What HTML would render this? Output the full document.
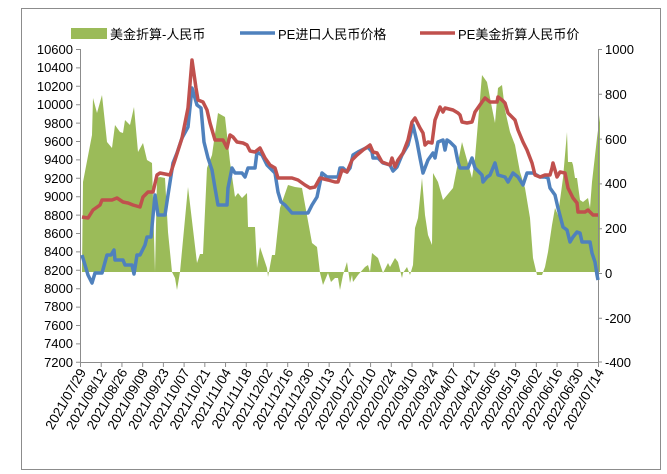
<!DOCTYPE html>
<html><head><meta charset="utf-8"><style>
body{margin:0;background:#fff;}
svg{display:block;font-family:"Liberation Sans","Noto Sans CJK SC",sans-serif;}
</style></head><body>
<svg width="667" height="474" viewBox="0 0 667 474" xmlns="http://www.w3.org/2000/svg">
<rect x="21.5" y="8.5" width="639" height="461" fill="#fff" stroke="#8c8c8c"/>
<rect x="71" y="28" width="36" height="11" fill="#9bbb59"/>
<text x="110" y="39" font-size="13">美金折算-人民币</text>
<line x1="240" y1="33" x2="275" y2="33" stroke="#4f81bd" stroke-width="3.5"/>
<text x="278" y="39" font-size="13">PE进口人民币价格</text>
<line x1="420" y1="33" x2="455" y2="33" stroke="#c0504d" stroke-width="3.5"/>
<text x="458" y="39" font-size="13">PE美金折算人民币价</text>
<polygon fill="#9bbb59" points="81,272 82,272 83,182 92,135 93,98 97,113 102,95 107,142 112,148 115,125 120,132 123,133 125,120 130,125 134,107 138,152 143,143 147,160 152,163 155,272 157,178 160,177 165,178 168,232 172,272 175,278 177,290 180,272 188,187 197,263 200,254 203,254 207,168 212,155 218,113 225,117 230,162 235,197 238,193 242,198 247,193 248,227 255,227 257,268 260,247 267,268 268,277 272,255 275,255 280,208 288,185 295,187 302,188 312,243 317,247 320,273 323,285 328,273 331,282 335,278 338,278 340,290 343,275 347,262 350,283 352,275 353,282 358,275 365,267 368,265 370,272 372,253 378,258 383,273 388,263 390,267 395,258 398,262 402,278 403,273 407,267 410,275 413,265 415,228 418,218 422,178 425,215 428,235 432,245 433,173 438,182 443,200 453,188 462,142 472,178 475,158 482,75 487,82 492,108 495,123 498,88 502,85 505,110 510,132 515,145 520,172 525,188 530,218 533,258 537,275 542,275 545,267 548,252 552,225 555,208 558,215 563,178 567,132 568,162 572,162 573,165 575,178 577,178 580,200 583,202 588,198 590,208 592,182 597,138 600,115 600,272"/>
<g stroke="#8c8c8c" fill="none">
<line x1="80.5" y1="49" x2="80.5" y2="362"/>
<line x1="598.5" y1="49" x2="598.5" y2="362"/>
<line x1="80" y1="362.5" x2="599" y2="362.5"/>
<path d="M76,49.5h4M76,67.9h4M76,86.3h4M76,104.7h4M76,123.1h4M76,141.5h4M76,159.9h4M76,178.3h4M76,196.7h4M76,215.1h4M76,233.5h4M76,251.9h4M76,270.3h4M76,288.7h4M76,307.1h4M76,325.5h4M76,343.9h4M76,362.3h4"/>
<path d="M598,49.5h4M598,94.3h4M598,139.1h4M598,183.9h4M598,228.7h4M598,273.5h4M598,318.3h4M598,362h4"/>
</g>
<g id="xt" stroke="#8c8c8c"></g>
<g font-size="13" text-anchor="end">
<text x="73" y="54">10600</text><text x="73" y="72">10400</text><text x="73" y="91">10200</text><text x="73" y="109">10000</text><text x="73" y="128">9800</text><text x="73" y="146">9600</text><text x="73" y="164">9400</text><text x="73" y="183">9200</text><text x="73" y="201">9000</text><text x="73" y="220">8800</text><text x="73" y="238">8600</text><text x="73" y="256">8400</text><text x="73" y="275">8200</text><text x="73" y="293">8000</text><text x="73" y="311">7800</text><text x="73" y="330">7600</text><text x="73" y="348">7400</text><text x="73" y="367">7200</text>
</g>
<g font-size="13" text-anchor="start">
<text x="605" y="54">1000</text><text x="605" y="99">800</text><text x="605" y="144">600</text><text x="605" y="188">400</text><text x="605" y="233">200</text><text x="605" y="278">0</text><text x="605" y="323">-200</text><text x="605" y="367">-400</text>
</g>
<g id="xl" font-size="13.5" text-anchor="end"></g>
<polyline fill="none" stroke="#4f81bd" stroke-width="3.5" stroke-linejoin="round" points="82,255 88,275 92,283 95,273 102,273 107,255 111,255 114,250 115,260 123,260 125,265 132,265 134,274 137,255 140,255 145,245 147,237 151,237 155,195 158,215 165,215 168,195 173,163 177,153 182,138 188,127 192,88 197,105 201,108 204,142 208,158 212,170 215,188 218,205 227,205 228,188 232,168 235,173 242,173 245,177 248,168 255,168 257,152 262,155 267,165 275,173 278,192 281,202 285,205 292,213 308,213 312,205 317,197 322,173 327,177 335,177 338,177 340,168 343,168 347,172 350,168 353,155 358,152 368,147 372,152 373,158 378,158 383,163 390,165 393,171 397,167 402,155 405,150 408,145 413,125 417,142 420,158 423,173 428,160 433,153 435,158 438,142 443,140 445,150 447,140 450,142 455,147 458,162 460,168 468,168 472,158 475,168 482,175 483,182 487,177 490,175 495,163 498,175 505,177 508,182 513,173 518,177 523,185 527,173 533,173 540,177 545,177 548,178 550,188 555,195 558,208 563,227 567,230 570,242 573,237 577,232 580,233 582,242 590,242 592,253 595,262 597,275 598,280"/>
<polyline fill="none" stroke="#c0504d" stroke-width="3.5" stroke-linejoin="round" points="82,217 88,218 93,210 100,205 102,200 112,200 117,198 123,202 128,203 133,205 140,207 143,197 148,192 153,192 157,175 160,173 170,175 175,160 182,138 188,108 192,60 196,88 198,100 203,102 207,110 210,123 215,140 223,140 227,148 230,135 233,137 237,142 243,143 247,145 250,151 255,152 260,148 265,158 270,165 275,168 278,178 285,178 292,178 298,180 305,185 310,188 315,187 320,178 328,180 335,182 338,182 342,170 347,172 352,160 357,155 363,150 370,145 373,152 377,153 382,162 390,165 392,158 395,167 398,160 403,153 408,140 412,122 415,118 420,128 423,133 425,145 428,142 432,143 435,120 440,107 443,112 445,108 453,110 458,113 460,115 462,122 467,123 472,122 475,112 482,102 485,98 490,102 497,102 498,97 502,100 505,103 508,113 515,120 518,130 523,142 527,150 532,163 535,175 540,177 545,175 550,175 552,168 553,163 557,177 560,172 565,173 568,188 573,198 577,203 578,212 585,212 588,210 593,215 598,215"/>
</svg>
<script>
var d=["2021/07/29","2021/08/12","2021/08/26","2021/09/09","2021/09/23","2021/10/07","2021/10/21","2021/11/04","2021/11/18","2021/12/02","2021/12/16","2021/12/30","2022/01/13","2022/01/27","2022/02/10","2022/02/24","2022/03/10","2022/03/24","2022/04/07","2022/04/21","2022/05/05","2022/05/19","2022/06/02","2022/06/16","2022/06/30","2022/07/14"];
var xl=document.getElementById('xl'),xt=document.getElementById('xt'),ns="http://www.w3.org/2000/svg";
for(var i=0;i<26;i++){var x=80.5+i*20.72;
var l=document.createElementNS(ns,'line');l.setAttribute('x1',x);l.setAttribute('x2',x);l.setAttribute('y1',362);l.setAttribute('y2',367);xt.appendChild(l);
var t=document.createElementNS(ns,'text');t.setAttribute('transform','translate('+(x+6)+',372) rotate(-60)');t.textContent=d[i];xl.appendChild(t);}
</script>
</body></html>
